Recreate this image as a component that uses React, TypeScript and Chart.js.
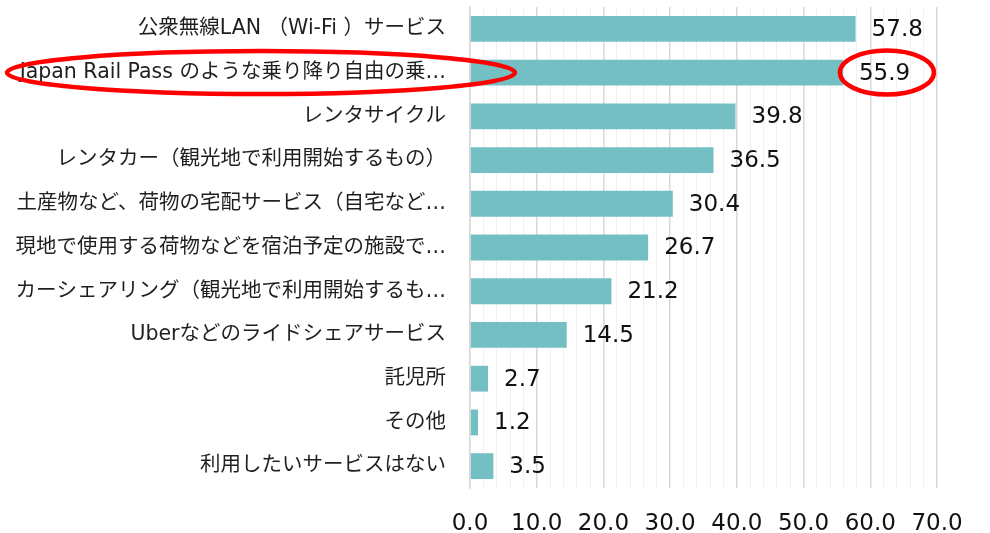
import React, { useEffect, useRef } from "react";
import { Chart, registerables } from "chart.js";

Chart.register(...registerables);

const categories: string[] = [
  "公衆無線LAN （Wi-Fi ）サービス",
  "Japan Rail Pass のような乗り降り自由の乗…",
  "レンタサイクル",
  "レンタカー（観光地で利用開始するもの）",
  "土産物など、荷物の宅配サービス（自宅など…",
  "現地で使用する荷物などを宿泊予定の施設で…",
  "カーシェアリング（観光地で利用開始するも…",
  "Uberなどのライドシェアサービス",
  "託児所",
  "その他",
  "利用したいサービスはない",
];

const values: number[] = [57.8, 55.9, 39.8, 36.5, 30.4, 26.7, 21.2, 14.5, 2.7, 1.2, 3.5];

const highlightIndex = 1;

const FONT = '"DejaVu Sans", "Noto Sans CJK JP", sans-serif';

const labelPlugin = {
  id: "valueLabels",
  afterDatasetsDraw(chart: any) {
    const ctx = chart.ctx;
    const meta = chart.getDatasetMeta(0);
    ctx.save();
    ctx.font = `23px ${FONT}`;
    ctx.fillStyle = "#111111";
    ctx.textAlign = "left";
    ctx.textBaseline = "middle";
    meta.data.forEach((bar: any, i: number) => {
      const v = chart.data.datasets[0].data[i] as number;
      ctx.fillText(v.toFixed(1), bar.x + 16, bar.y + 1);
    });
    ctx.restore();
  },
};

const ellipsePlugin = {
  id: "highlightEllipses",
  afterDraw(chart: any) {
    const ctx = chart.ctx;
    const y = chart.scales.y.getPixelForValue(highlightIndex);
    const meta = chart.getDatasetMeta(0);
    const bar = meta.data[highlightIndex] as any;
    const left = chart.chartArea.left;
    ctx.save();
    ctx.strokeStyle = "#ff0000";
    ctx.lineWidth = 4.5;
    const lx1 = 7;
    const lx2 = left + 45;
    ctx.beginPath();
    ctx.ellipse((lx1 + lx2) / 2, y, (lx2 - lx1) / 2, 21.5, 0, 0, Math.PI * 2);
    ctx.stroke();
    const cx = bar.x + 44;
    ctx.beginPath();
    ctx.ellipse(cx, y, 47, 22, 0, 0, Math.PI * 2);
    ctx.stroke();
    ctx.restore();
  },
};

export default function App() {
  const ref = useRef<HTMLCanvasElement>(null);

  useEffect(() => {
    if (!ref.current) return;
    const chart = new Chart(ref.current, {
      type: "bar",
      data: {
        labels: categories,
        datasets: [
          {
            data: values,
            backgroundColor: "#74bfc4",
            borderWidth: 0,
            barPercentage: 0.59,
            categoryPercentage: 1,
          },
        ],
      },
      options: {
        indexAxis: "y",
        responsive: false,
        animation: false,
        layout: { padding: { top: 7, right: 53, left: 0, bottom: 0 } },
        plugins: {
          legend: { display: false },
          tooltip: { enabled: false },
        },
        scales: {
          x: {
            min: 0,
            max: 70,
            border: { display: false },
            grid: {
              drawTicks: false,
              color: (c: any) =>
                c.tick && Math.round(c.tick.value) % 10 === 0 ? "#d9d9d9" : "#f0f0f0",
              lineWidth: (c: any) =>
                c.tick && Math.round(c.tick.value) % 10 === 0 ? 1.5 : 1,
            },
            ticks: {
              stepSize: 2,
              autoSkip: false,
              maxRotation: 0,
              padding: 22,
              color: "#111111",
              font: { family: FONT, size: 23 },
              callback: (v: any) => (Math.round(Number(v)) % 10 === 0 ? Number(v).toFixed(1) : ""),
            },
            afterFit: (s: any) => {
              s.height = 45;
              s.paddingLeft = 0;
            },
          },
          y: {
            border: { display: true, color: "#d9d9d9", width: 1.5 },
            grid: { display: false, drawTicks: false },
            ticks: {
              padding: 24,
              color: "#1f1f1f",
              font: { family: FONT, size: 20.5 },
            },
            afterFit: (s: any) => {
              s.width = 470;
              s.paddingTop = 0;
              s.paddingBottom = 0;
            },
          },
        },
      },
      plugins: [labelPlugin, ellipsePlugin],
    });
    return () => chart.destroy();
  }, []);

  return (
    <div style={{ position: "absolute", left: 0, top: 0, width: 990, height: 533, background: "#fff" }}>
      <canvas ref={ref} width={990} height={533} />
    </div>
  );
}
